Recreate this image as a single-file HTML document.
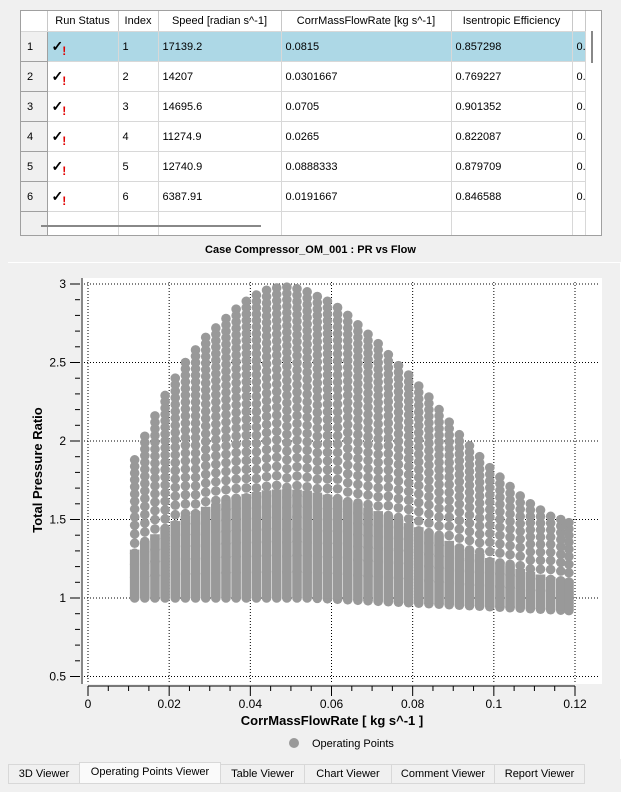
<!DOCTYPE html>
<html><head><style>
body{margin:0;width:621px;height:792px;background:#f0f0f0;font-family:"Liberation Sans",sans-serif;position:relative;overflow:hidden}
.a{position:absolute}
table{border-collapse:collapse;font-size:11px;table-layout:fixed}
td,th{border-right:1px solid #d8d8d8;border-bottom:1px solid #d8d8d8;padding:0 0 0 4px;height:29px;text-align:left;font-weight:normal;white-space:nowrap;overflow:hidden}
th{height:20px;background:#fff;text-align:center;padding:0;border-right:1px solid #c8c8c8}
td.rh{background:#f0f0f0;border-right:1px solid #a0a0a0;border-bottom:1px solid #a0a0a0;padding-left:6px}
.sel td{background:#add8e6}
.sel td.rh{background:#f0f0f0}
.ck{font-size:14px;font-weight:bold}
.ck b{color:#e00000;font-size:12px;position:relative;top:4px;left:-1px}
.tab{position:absolute;top:764px;height:18px;font-size:11px;line-height:18px;text-align:center;border:1px solid #d8d8d8;background:#f0f0f0}
</style></head><body>
<div class="a" style="left:20px;top:10px;width:580px;height:224px;border:1px solid #a0a0a0;background:#fff;overflow:hidden">
<table style="width:564px">
<colgroup><col style="width:26px"><col style="width:71px"><col style="width:40px"><col style="width:123px"><col style="width:170px"><col style="width:121px"><col style="width:13px"></colgroup>
<tr><th style="background:#fff"></th><th>Run Status</th><th>Index</th><th>Speed [radian s^-1]</th><th>CorrMassFlowRate [kg s^-1]</th><th>Isentropic Efficiency</th><th></th></tr>
<tr class="sel"><td class="rh">1</td><td class="ck">✓<b>!</b></td><td>1</td><td>17139.2</td><td>0.0815</td><td>0.857298</td><td>0.</td></tr>
<tr><td class="rh">2</td><td class="ck">✓<b>!</b></td><td>2</td><td>14207</td><td>0.0301667</td><td>0.769227</td><td>0.</td></tr>
<tr><td class="rh">3</td><td class="ck">✓<b>!</b></td><td>3</td><td>14695.6</td><td>0.0705</td><td>0.901352</td><td>0.</td></tr>
<tr><td class="rh">4</td><td class="ck">✓<b>!</b></td><td>4</td><td>11274.9</td><td>0.0265</td><td>0.822087</td><td>0.</td></tr>
<tr><td class="rh">5</td><td class="ck">✓<b>!</b></td><td>5</td><td>12740.9</td><td>0.0888333</td><td>0.879709</td><td>0.</td></tr>
<tr><td class="rh">6</td><td class="ck">✓<b>!</b></td><td>6</td><td>6387.91</td><td>0.0191667</td><td>0.846588</td><td>0.</td></tr>
<tr><td class="rh"></td><td></td><td></td><td></td><td></td><td></td><td></td></tr>
</table>
<div class="a" style="left:570px;top:20px;width:2px;height:32px;background:#888"></div>
<div class="a" style="left:20px;top:214px;width:220px;height:2px;background:#888"></div>
</div>
<div class="a" style="left:0;top:244px;width:621px;text-align:center;font-size:11px;font-weight:bold">Case Compressor_OM_001 : PR vs Flow</div>
<div class="a" style="left:8px;top:262px;width:612px;height:496px;border-top:1px solid #fff;border-right:1px solid #fff"></div>
<svg class="a" style="left:0;top:0" width="621" height="792" id="s">
<rect x="82" y="278" width="520" height="406" fill="#fff"/>
<line x1="82" y1="278" x2="82" y2="684" stroke="#888" stroke-width="2"/>
<g id="grid" stroke="#000" stroke-dasharray="1,2" stroke-width="1"></g>
<g id="pts" fill="#999"></g>
<g id="ax" font-size="12" fill="#000"></g>
<text x="42" y="470" font-size="13" font-weight="bold" transform="rotate(-90 42 470)" text-anchor="middle">Total Pressure Ratio</text>
<text x="332" y="725" font-size="13" font-weight="bold" text-anchor="middle">CorrMassFlowRate [ kg s^-1 ]</text>
<circle cx="294" cy="743" r="5" fill="#999"/>
<text x="312" y="747" font-size="11">Operating Points</text>
</svg>
<div class="tab" style="left:8px;width:70px">3D Viewer</div>
<div class="tab" style="left:79px;width:140px;top:762px;height:20px;background:#fafafa">Operating Points Viewer</div>
<div class="tab" style="left:220px;width:83px">Table Viewer</div>
<div class="tab" style="left:304px;width:86px">Chart Viewer</div>
<div class="tab" style="left:391px;width:102px">Comment Viewer</div>
<div class="tab" style="left:494px;width:89px">Report Viewer</div>
<script>
(function(){
const NS="http://www.w3.org/2000/svg";
function el(p,t,a,txt){const e=document.createElementNS(NS,t);for(const k in a)e.setAttribute(k,a[k]);if(txt!==undefined)e.textContent=txt;p.appendChild(e);return e;}
const X=v=>88+v/0.12*487, Y=v=>598-(v-1)*157;
const g=document.getElementById('grid'),ax=document.getElementById('ax'),P=document.getElementById('pts');
for(let i=0;i<=6;i++){const x=X(i*0.02);el(g,'line',{x1:x,y1:282,x2:x,y2:682});}
for(let v=0.5;v<=3.01;v+=0.5){const y=Y(v);el(g,'line',{x1:84,y1:y,x2:598,y2:y});}
for(let v=0.5;v<=3.001;v+=0.1){const y=Y(v);const maj=Math.abs(v*2-Math.round(v*2))<0.01;el(ax,'line',{x1:maj?70:75,y1:y,x2:80,y2:y,stroke:'#000'});}
[0.5,1,1.5,2,2.5,3].forEach(v=>el(ax,'text',{x:66,y:Y(v)+4,'text-anchor':'end'},String(v)));
el(ax,'line',{x1:X(0),y1:686,x2:X(0.12),y2:686,stroke:'#000'});
for(let i=0;i<=24;i++){const x=X(i*0.005);el(ax,'line',{x1:x,y1:686,x2:x,y2:i%4==0?696:691,stroke:'#000'});}
['0','0.02','0.04','0.06','0.08','0.1','0.12'].forEach((t,i)=>el(ax,'text',{x:X(i*0.02),y:708,'text-anchor':'middle'},t));
const env=[[0.0115,1.88],[0.014,2.03],[0.0165,2.16],[0.019,2.29],[0.0215,2.4],[0.024,2.5],[0.0265,2.58],[0.029,2.66],[0.0315,2.72],[0.034,2.78],[0.0365,2.84],[0.039,2.89],[0.0415,2.93],[0.044,2.96],[0.0465,2.975],[0.049,2.98],[0.0515,2.97],[0.054,2.95],[0.0565,2.92],[0.059,2.89],[0.0615,2.85],[0.064,2.8],[0.0665,2.74],[0.069,2.68],[0.0715,2.62],[0.074,2.55],[0.0765,2.48],[0.079,2.42],[0.0815,2.35],[0.084,2.28],[0.0865,2.2],[0.089,2.12],[0.0915,2.04],[0.094,1.97],[0.0965,1.9],[0.099,1.83],[0.1015,1.77],[0.104,1.71],[0.1065,1.65],[0.109,1.6],[0.1115,1.56],[0.114,1.52],[0.1165,1.5],[0.1185,1.48]];
env.forEach(([x,t])=>{const b=x<0.055?1.0:1.0-(x-0.055)/(0.1185-0.055)*0.08;const cx=X(x);
 const N=Math.max(6,Math.round((Y(b)-Y(t))/9));
 for(let k=0;k<=N;k++){const f=k/N;const v=b+(t-b)*Math.pow(f,0.7);el(P,'circle',{cx:cx,cy:Y(v),r:4.8});}
 const m=b+0.35*(t-b);
 el(P,'rect',{x:cx-4.8,y:Y(m),width:9.6,height:Y(b)-Y(m)});
});
})();
</script>
</body></html>
